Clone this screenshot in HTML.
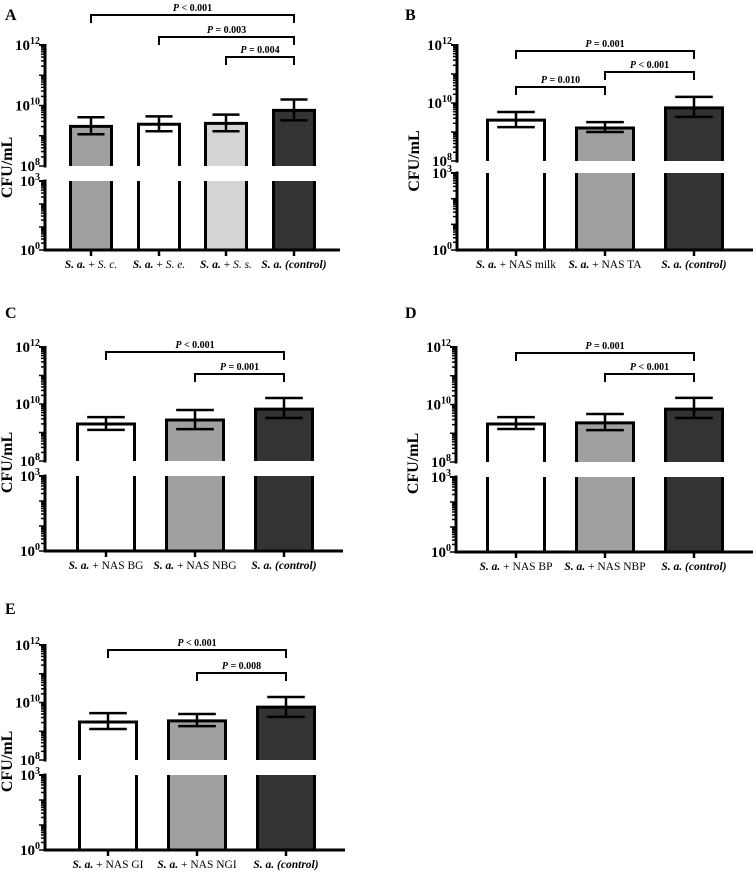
<!DOCTYPE html>
<html><head><meta charset="utf-8"><style>
html,body{margin:0;padding:0;background:#fff}
svg{display:block}
text{font-family:"Liberation Serif",serif}
</style></head><body>
<svg id="fig" width="756" height="875" viewBox="0 0 756 875" xmlns="http://www.w3.org/2000/svg"></svg>
<script>
// ---- data (log10 CFU/mL) ----
const catsA = [["S. a.", " + ", "S. c."],["S. a.", " + ", "S. e."],["S. a.", " + ", "S. s."],["S. a. (control)", "", ""]];
const meanA = [9.31, 9.38, 9.41, 9.84];
const hiA = [9.61, 9.64, 9.70, 10.20];
const loA = [9.05, 9.15, 9.15, 9.51];
const pA = ["P < 0.001", "P = 0.003", "P = 0.004"];

const catsB = [["S. a.", " + NAS milk", ""],["S. a.", " + NAS TA", ""],["S. a. (control)", "", ""]];
const meanB = [9.41, 9.14, 9.83];
const hiB = [9.69, 9.34, 10.21];
const loB = [9.17, 9.00, 9.52];
const pB = ["P = 0.001", "P = 0.010", "P < 0.001"];

const catsC = [["S. a.", " + NAS BG", ""],["S. a.", " + NAS NBG", ""],["S. a. (control)", "", ""]];
const meanC = [9.30, 9.44, 9.82];
const hiC = [9.54, 9.79, 10.21];
const loC = [9.09, 9.12, 9.51];
const pC = ["P < 0.001", "P = 0.001"];

const catsD = [["S. a.", " + NAS BP", ""],["S. a.", " + NAS NBP", ""],["S. a. (control)", "", ""]];
const meanD = [9.32, 9.36, 9.84];
const hiD = [9.56, 9.67, 10.23];
const loD = [9.15, 9.11, 9.53];
const pD = ["P = 0.001", "P < 0.001"];

const catsE = [["S. a.", " + NAS GI", ""],["S. a.", " + NAS NGI", ""],["S. a. (control)", "", ""]];
const meanE = [9.32, 9.36, 9.84];
const hiE = [9.63, 9.60, 10.19];
const loE = [9.08, 9.18, 9.50];
const pE = ["P < 0.001", "P = 0.008"];

const NS = "http://www.w3.org/2000/svg";
const svg = document.getElementById("fig");
function mk(tag, attrs, parent){
  const e = document.createElementNS(NS, tag);
  for (const k in attrs) e.setAttribute(k, attrs[k]);
  (parent||svg).appendChild(e);
  return e;
}

function panel(cfg, cats, mean, hi, lo, pv, fills, brackets){
  const g = mk("g", {});
  
  
  const yU = v => cfg.y12 + (12 - v) * (cfg.y8 - cfg.y12) / 4;
  const yL = v => cfg.y0 - v * (cfg.y0 - cfg.y3) / 3;
  const L = mk("text", {x: cfg.lx, y: cfg.ly, "font-size": 16, "font-weight": "bold"}, g);
  L.textContent = cfg.id;
  
  
  cats.forEach((c, i) => {
    const cx = cfg.cx[i], w = cfg.bw, x0 = cx - w/2, x1 = cx + w/2;
    const top = yU(mean[i]);
    mk("rect", {x: x0, y: top, width: w, height: cfg.y8 - top, fill: fills[i]}, g);
    mk("rect", {x: x0, y: cfg.y3, width: w, height: cfg.y0 - cfg.y3, fill: fills[i]}, g);
    const b1 = mk("path", {d: `M${x0},${cfg.y8}V${top}H${x1}V${cfg.y8}`, fill: "none", stroke: "#000", "stroke-width": 3}, g);
    
    
    const b2 = mk("path", {d: `M${x0},${cfg.y3}V${cfg.y0}M${x1},${cfg.y3}V${cfg.y0}`, fill: "none", stroke: "#000", "stroke-width": 3}, g);
    
    
    const eg = mk("g", {stroke: "#000", "stroke-width": 2.5}, g);
    
    
    const yh = yU(hi[i]), yl = yU(lo[i]), hw = cfg.bw * 0.33;
    mk("line", {x1: cx, x2: cx, y1: yh, y2: yl}, eg);
    mk("line", {x1: cx - hw, x2: cx + hw, y1: yh, y2: yh}, eg);
    mk("line", {x1: cx - hw, x2: cx + hw, y1: yl, y2: yl}, eg);
    mk("line", {x1: cx, x2: cx, y1: cfg.y0, y2: cfg.y0 + 6, stroke: "#000", "stroke-width": 2.5}, g);
    const t = mk("text", {x: cx, y: cfg.y0 + 18, "font-size": 11.5, "text-anchor": "middle"}, g);
    
    
    const s1 = mk("tspan", {"font-weight": "bold", "font-style": "italic"}, t); s1.textContent = c[0];
    if (c[1]) { const s2 = mk("tspan", {}, t); s2.textContent = c[1]; }
    if (c[2]) { const s3 = mk("tspan", {"font-style": "italic"}, t); s3.textContent = c[2]; }
  });
  const ax = mk("g", {stroke: "#000"}, g);
  
  
  mk("line", {x1: cfg.ax, x2: cfg.ax, y1: cfg.y12 - 1, y2: cfg.y8 + 1.5, "stroke-width": 3}, ax);
  mk("line", {x1: cfg.ax, x2: cfg.ax, y1: cfg.y3 - 1.5, y2: cfg.y0, "stroke-width": 3}, ax);
  const xa = mk("line", {x1: cfg.ax - 1.5, x2: cfg.xEnd, y1: cfg.y0, y2: cfg.y0, stroke: "#000", "stroke-width": 3}, g);
  
  
  for (let d = 8; d < 12; d++) for (let m = 1; m < 10; m++) {
    const y = yU(d + Math.log10(m));
    mk("line", {x1: cfg.ax - (m === 1 ? 6 : 4), x2: cfg.ax, y1: y, y2: y, "stroke-width": 1.5}, ax);
  }
  mk("line", {x1: cfg.ax - 6, x2: cfg.ax, y1: cfg.y12, y2: cfg.y12, "stroke-width": 2}, ax);
  for (let d = 0; d < 3; d++) for (let m = 1; m < 10; m++) {
    const y = yL(d + Math.log10(m));
    mk("line", {x1: cfg.ax - (m === 1 ? 6 : 4), x2: cfg.ax, y1: y, y2: y, "stroke-width": 1.5}, ax);
  }
  mk("line", {x1: cfg.ax - 6, x2: cfg.ax, y1: cfg.y3, y2: cfg.y3, "stroke-width": 2}, ax);
  [[12, cfg.y12], [10, yU(10)], [8, cfg.y8], [3, cfg.y3], [0, cfg.y0]].forEach(([e, y]) => {
    const t = mk("text", {x: cfg.ax - 5, y: y + 5, "font-size": 15, "font-weight": "bold", "text-anchor": "end"}, g);
    
    
    const a = mk("tspan", {}, t); a.textContent = "10";
    const b = mk("tspan", {"font-size": 10, dy: -6}, t); b.textContent = String(e);
  });
  const yt = mk("text", {x: 0, y: 0, "font-size": 16, "font-weight": "bold", "text-anchor": "middle",
    transform: `translate(${cfg.ax - cfg.tOff},${(cfg.y8 + cfg.y3) / 2 - 6}) rotate(-90)`}, g);
  yt.textContent = "CFU/mL";
  
  
  brackets.forEach((br, k) => {
    const bg = mk("g", {}, g);
    
    
    const x1 = cfg.cx[br.a], x2 = cfg.cx[br.b];
    mk("path", {d: `M${x1},${br.y + 8}V${br.y}H${x2}V${br.y + 8}`, fill: "none", stroke: "#000", "stroke-width": 2}, bg);
    const t = mk("text", {x: (x1 + x2) / 2, y: br.y - 4, "font-size": 10, "font-weight": "bold", "text-anchor": "middle"}, bg);
    const parts = pv[k].split(" ");
    const it = mk("tspan", {"font-style": "italic"}, t); it.textContent = parts[0];
    const rest = mk("tspan", {}, t); rest.textContent = " " + parts.slice(1).join(" ");
  });
}

panel({id: "A", lx: 5, ly: 20, ax: 45, tOff: 33, y12: 45, y8: 166, y3: 181, y0: 250, xEnd: 340, cx: [91, 159, 226, 294], bw: 41},
  catsA, meanA, hiA, loA, pA, ["#a0a0a0", "#ffffff", "#d4d4d4", "#333333"],
  [{a: 0, b: 3, y: 15}, {a: 1, b: 3, y: 37}, {a: 2, b: 3, y: 57}]);
panel({id: "B", lx: 405, ly: 20, ax: 457, tOff: 38, y12: 45, y8: 161, y3: 173, y0: 250, xEnd: 753, cx: [516, 605, 694], bw: 57},
  catsB, meanB, hiB, loB, pB, ["#ffffff", "#a0a0a0", "#333333"],
  [{a: 0, b: 2, y: 51}, {a: 0, b: 1, y: 87}, {a: 1, b: 2, y: 72}]);
panel({id: "C", lx: 5, ly: 318, ax: 45, tOff: 33, y12: 347, y8: 461, y3: 476, y0: 551, xEnd: 343, cx: [106, 195, 284], bw: 57},
  catsC, meanC, hiC, loC, pC, ["#ffffff", "#a0a0a0", "#333333"],
  [{a: 0, b: 2, y: 352}, {a: 1, b: 2, y: 374}]);
panel({id: "D", lx: 405, ly: 318, ax: 456, tOff: 38, y12: 347, y8: 462, y3: 477, y0: 552, xEnd: 753, cx: [516, 605, 694], bw: 57},
  catsD, meanD, hiD, loD, pD, ["#ffffff", "#a0a0a0", "#333333"],
  [{a: 0, b: 2, y: 353}, {a: 1, b: 2, y: 374}]);
panel({id: "E", lx: 5, ly: 614, ax: 45, tOff: 33, y12: 645, y8: 760, y3: 775, y0: 850, xEnd: 345, cx: [108, 197, 286], bw: 57},
  catsE, meanE, hiE, loE, pE, ["#ffffff", "#a0a0a0", "#333333"],
  [{a: 0, b: 2, y: 650}, {a: 1, b: 2, y: 673}]);
</script>
</body></html>
